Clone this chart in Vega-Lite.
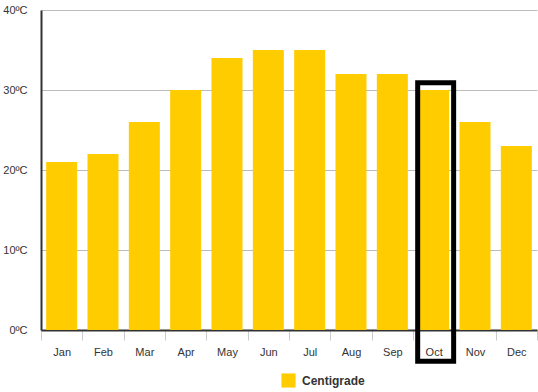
{
  "$schema": "https://vega.github.io/schema/vega-lite/v6.json",
  "width": 496,
  "height": 320,
  "autosize": {"type": "none"},
  "padding": {"left": 41, "top": 10, "right": 1, "bottom": 62},
  "background": "white",
  "config": {
    "view": {"stroke": null},
    "font": "Liberation Sans"
  },
  "datasets": {
    "temps": [
      {"month": "Jan", "temp": 21, "series": "Centigrade"},
      {"month": "Feb", "temp": 22, "series": "Centigrade"},
      {"month": "Mar", "temp": 26, "series": "Centigrade"},
      {"month": "Apr", "temp": 30, "series": "Centigrade"},
      {"month": "May", "temp": 34, "series": "Centigrade"},
      {"month": "Jun", "temp": 35, "series": "Centigrade"},
      {"month": "Jul", "temp": 35, "series": "Centigrade"},
      {"month": "Aug", "temp": 32, "series": "Centigrade"},
      {"month": "Sep", "temp": 32, "series": "Centigrade"},
      {"month": "Oct", "temp": 30, "series": "Centigrade"},
      {"month": "Nov", "temp": 26, "series": "Centigrade"},
      {"month": "Dec", "temp": 23, "series": "Centigrade"}
    ],
    "highlight": [
      {"month": "Oct", "lo": -3.9, "hi": 30.9}
    ]
  },
  "layer": [
    {
      "data": {"name": "temps"},
      "mark": {"type": "bar", "width": {"band": 0.75}},
      "encoding": {
        "x": {
          "field": "month",
          "type": "nominal",
          "sort": ["Jan", "Feb", "Mar", "Apr", "May", "Jun", "Jul", "Aug", "Sep", "Oct", "Nov", "Dec"],
          "scale": {"paddingInner": 0, "paddingOuter": 0},
          "axis": {
            "title": null,
            "labelAngle": 0,
            "labelFontSize": 11,
            "labelColor": "#333333",
            "labelPadding": 6,
            "tickBand": "extent",
            "tickSize": 10,
            "tickColor": "#cccccc",
            "domainColor": "#333333",
            "domainWidth": 2,
            "grid": false
          }
        },
        "y": {
          "field": "temp",
          "type": "quantitative",
          "scale": {"domain": [0, 40], "nice": false},
          "axis": {
            "title": null,
            "values": [0, 10, 20, 30, 40],
            "labelExpr": "datum.value + 'ºC'",
            "labelFontSize": 11,
            "labelColor": "#333333",
            "labelPadding": 14,
            "ticks": false,
            "domainColor": "#333333",
            "domainWidth": 2,
            "gridColor": "#bbbbbb",
            "gridWidth": 1
          }
        },
        "color": {
          "field": "series",
          "type": "nominal",
          "scale": {"range": ["#FFCC00"]},
          "legend": {
            "title": null,
            "orient": "none",
            "legendX": 240,
            "legendY": 363,
            "symbolType": "square",
            "symbolSize": 200,
            "symbolStrokeWidth": 0,
            "labelFontSize": 12,
            "labelFontWeight": "bold",
            "labelColor": "#333333",
            "labelOffset": 6
          }
        }
      }
    },
    {
      "data": {"name": "highlight"},
      "mark": {
        "type": "bar",
        "filled": false,
        "stroke": "black",
        "strokeWidth": 5,
        "width": {"band": 0.87},
        "xOffset": 2,
        "clip": false
      },
      "encoding": {
        "x": {
          "field": "month",
          "type": "nominal",
          "sort": ["Jan", "Feb", "Mar", "Apr", "May", "Jun", "Jul", "Aug", "Sep", "Oct", "Nov", "Dec"]
        },
        "y": {"field": "hi", "type": "quantitative"},
        "y2": {"field": "lo"}
      }
    }
  ]
}
